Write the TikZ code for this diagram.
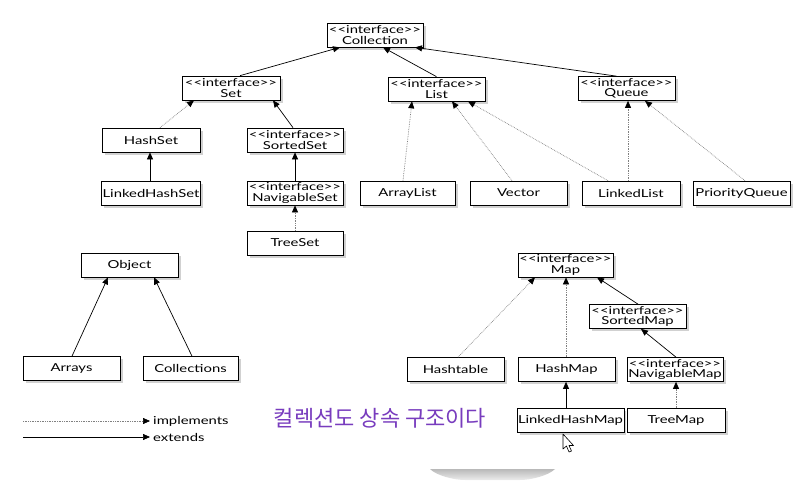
\documentclass[tikz,border=0pt]{standalone}
\usepackage{fontspec}
\setmainfont{Lato}
\newfontfamily\boxfont[FakeStretch=1.35]{Lato}
\newfontfamily\kofont{Noto Sans CJK KR}
\usetikzlibrary{arrows.meta,shadows}
\definecolor{kopurple}{RGB}{120,60,190}
\newcommand\ifc{<\kern0pt<interface>\kern0pt>}
\begin{document}
\begin{tikzpicture}[x=1pt,y=-1pt,
  box/.style={draw=black, line width=0.7pt, fill=white, minimum height=24pt, inner sep=1pt,
    align=center, font=\boxfont\fontsize{11}{10.5}\selectfont,
    drop shadow={shadow xshift=2.5pt, shadow yshift=-2.5pt, fill=black, opacity=0.18}},
  ext/.style={line width=0.7pt, -{Triangle[length=7pt,width=6pt]}},
  impl/.style={line width=0.7pt, gray, densely dotted, -{Triangle[length=7pt,width=6pt,color=black]}},
  lbl/.style={font=\boxfont\fontsize{11}{11}\selectfont, inner sep=3pt, anchor=west},
]
\fill[white] (0,0) rectangle (811,480);
\useasboundingbox (0,0) rectangle (811,480);

% Collection hierarchy
\node[box, minimum width=96pt] (coll) at (375,35) {\ifc\\Collection};
\node[box, minimum width=98pt] (set) at (231,88) {\ifc\\Set};
\node[box, minimum width=97pt] (list) at (436.5,89) {\ifc\\List};
\node[box, minimum width=97pt] (queue) at (626.5,88.5) {\ifc\\Queue};
\node[box, minimum width=98pt] (hashset) at (151,140) {HashSet};
\node[box, minimum width=96pt] (sortedset) at (295,140) {\ifc\\SortedSet};
\node[box, minimum width=98pt] (lhs) at (151,193) {LinkedHashSet};
\node[box, minimum width=96pt] (navset) at (295,193) {\ifc\\NavigableSet};
\node[box, minimum width=96pt] (treeset) at (295,243) {TreeSet};
\node[box, minimum width=95pt] (arraylist) at (407.5,193) {ArrayList};
\node[box, minimum width=97pt] (vector) at (518.5,193) {Vector};
\node[box, minimum width=98pt] (linkedlist) at (631,193) {LinkedList};
\node[box, minimum width=97pt] (pq) at (741.5,193) {PriorityQueue};

% Object
\node[box, minimum width=97pt] (object) at (129.5,265) {Object};
\node[box, minimum width=97pt] (arrays) at (71.5,368.5) {Arrays};
\node[box, minimum width=95pt] (collections) at (190.5,368.5) {Collections};

% Map hierarchy
\node[box, minimum width=95pt] (map) at (565.5,265) {\ifc\\Map};
\node[box, minimum width=97pt] (sortedmap) at (637.5,316.5) {\ifc\\SortedMap};
\node[box, minimum width=97pt] (hashtable) at (455.5,369.5) {Hashtable};
\node[box, minimum width=97pt] (hashmap) at (566.5,369.5) {HashMap};
\node[box, minimum width=96pt] (navmap) at (675,369.5) {\ifc\\NavigableMap};
\node[box, minimum width=105pt] (lhm) at (570.5,420.5) {LinkedHashMap};
\node[box, minimum width=98pt] (treemap) at (676,420.5) {TreeMap};

% connectors
\draw[ext] ([xshift=9pt]set.north) -- ([xshift=-35pt]coll.south);
\draw[ext] ([xshift=0pt]list.north) -- ([xshift=8pt]coll.south);
\draw[ext] ([xshift=-10pt]queue.north) -- ([xshift=40pt]coll.south);
\draw[impl] ([xshift=9pt]hashset.north) -- ([xshift=-37pt]set.south);
\draw[ext] ([xshift=-2pt]sortedset.north) -- ([xshift=42pt]set.south);
\draw[ext] ([xshift=-1pt]lhs.north) -- ([xshift=-1pt]hashset.south);
\draw[ext] (navset.north) -- (sortedset.south);
\draw[impl] (treeset.north) -- (navset.south);
\draw[impl] ([xshift=-4.5pt]arraylist.north) -- ([xshift=-24.5pt]list.south);
\draw[impl] ([xshift=-6.5pt]vector.north) -- ([xshift=15.5pt]list.south);
\draw[impl] ([xshift=-23pt]linkedlist.north) -- ([xshift=31.5pt]list.south);
\draw[impl] ([xshift=-3pt]linkedlist.north) -- ([xshift=1.5pt]queue.south);
\draw[impl] ([xshift=3.5pt]pq.north) -- ([xshift=18.5pt]queue.south);

\draw[ext] ([xshift=0.5pt]arrays.north) -- ([xshift=-21.5pt]object.south);
\draw[ext] ([xshift=1.5pt]collections.north) -- ([xshift=24.5pt]object.south);

\draw[impl] ([xshift=2.5pt]hashtable.north) -- ([xshift=-30.5pt]map.south);
\draw[impl] ([xshift=-0.5pt]hashmap.north) -- ([xshift=0.5pt]map.south);
\draw[ext] ([xshift=0.5pt]sortedmap.north) -- ([xshift=31.5pt]map.south);
\draw[ext] ([xshift=1pt]navmap.north) -- ([xshift=3.5pt]sortedmap.south);
\draw[ext] ([xshift=-4.5pt]lhm.north) -- ([xshift=-0.5pt]hashmap.south);
\draw[impl] (treemap.north) -- ([xshift=1pt]navmap.south);

% legend
\node[lbl] (impltxt) at (150,421) {implements};
\node[lbl] (exttxt) at (150,437) {extends};
\coordinate (i0) at (23,421);
\coordinate (e0) at (23,437);
\draw[impl] (i0) -- (impltxt.west);
\draw[ext] (e0) -- (exttxt.west);

% Korean caption
\node[font=\kofont\fontsize{22}{22}\selectfont, text=kopurple, inner sep=0pt] (ko) at (380,418) {컬렉션도 상속 구조이다};

% bottom gray shape
\shade[top color=gray!55, bottom color=gray!15] (430,469) -- (555,469) .. controls (548,476) and (530,480) .. (520,480) -- (465,480) .. controls (455,480) and (437,476) .. (430,469) -- cycle;

% mouse cursor
\draw[fill=white, line width=0.6pt, line join=round] (563,434) -- (563,449) -- (566.5,446) -- (569,452) -- (571.5,451) -- (569,445.5) -- (573.5,445.5) -- cycle;
\end{tikzpicture}
\end{document}
